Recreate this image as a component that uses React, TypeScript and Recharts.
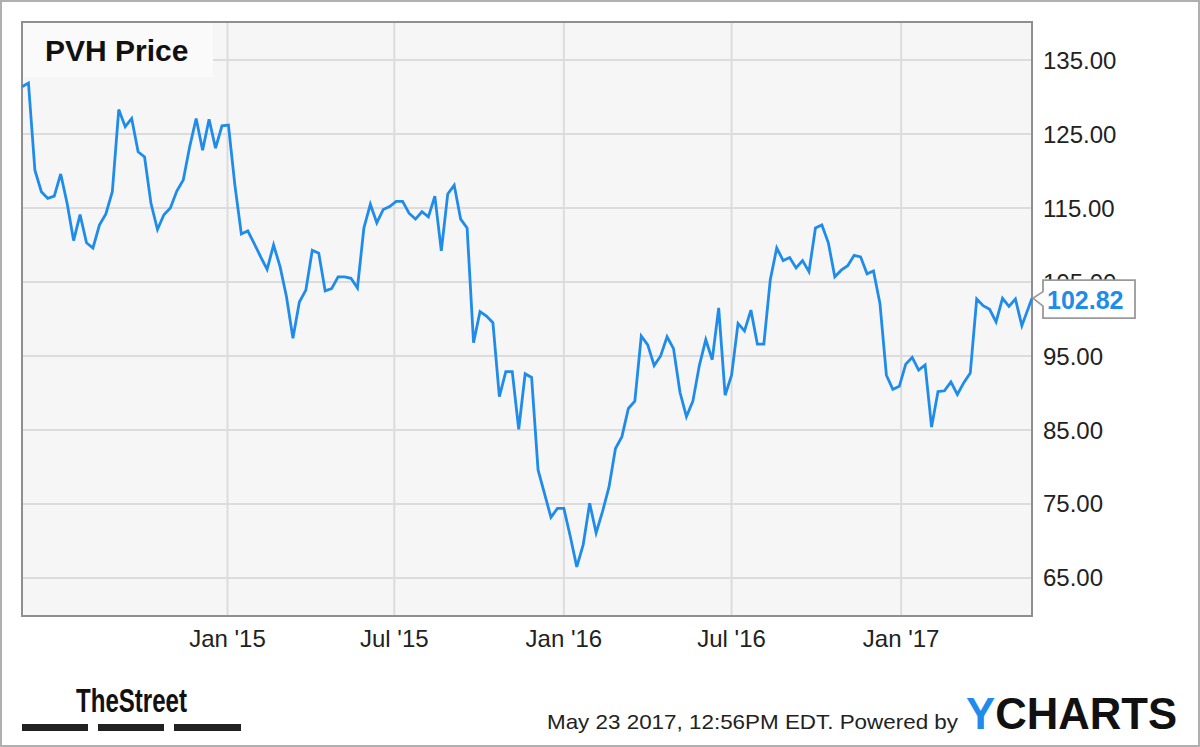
import React from 'react';
import { LineChart, Line, XAxis, YAxis, CartesianGrid, ReferenceArea } from 'recharts';

const START_DATE = '2014-05-23';
const END_DATE = '2017-05-23';

// Weekly closing prices of PVH
const prices = [
  131.4, 131.9, 120.1, 117.2, 116.3, 116.6, 119.6, 115.6, 110.6, 114.1,
  110.3, 109.6, 112.7, 114.2, 117.2, 128.3, 126.0, 127.1, 122.6, 121.9,
  115.6, 112.1, 114.1, 115.0, 117.3, 118.8, 123.3, 127.1, 122.8, 127.0,
  123.1, 126.1, 126.2, 118.1, 111.5, 111.9, 110.2, 108.4, 106.7, 110.0,
  107.1, 103.0, 97.4, 102.3, 103.9, 109.3, 108.9, 103.8, 104.1, 105.7,
  105.7, 105.5, 104.2, 112.3, 115.5, 113.0, 114.8, 115.2, 115.9, 115.9,
  114.3, 113.5, 114.5, 113.8, 116.6, 109.2, 116.9, 118.1, 113.5, 112.3,
  96.8, 101.0, 100.4, 99.5, 89.5, 92.9, 92.9, 85.1, 92.6, 92.1,
  79.6, 76.4, 73.2, 74.4, 74.4, 70.6, 66.5, 69.5, 75.1, 71.1,
  74.0, 77.3, 82.5, 84.1, 87.9, 88.9, 97.7, 96.5, 93.7, 95.0,
  97.6, 96.0, 90.1, 86.8, 88.9, 93.7, 97.2, 94.5, 101.5, 89.7,
  92.4, 99.4, 98.4, 101.2, 96.6, 96.6, 105.3, 109.6, 107.9, 108.3,
  106.9, 107.9, 106.4, 112.3, 112.7, 110.3, 105.7, 106.6, 107.2, 108.6,
  108.4, 106.1, 106.5, 102.1, 92.4, 90.5, 90.9, 93.9, 94.8, 93.1,
  93.8, 85.4, 90.2, 90.3, 91.5, 89.8, 91.4, 92.7, 102.7, 101.8,
  101.3, 99.6, 102.8, 101.7, 102.7, 99.1, 102.82,
];

const xTickDates = ['2015-01-01', '2015-07-01', '2016-01-01', '2016-07-01', '2017-01-01'];
const xTickLabels = ["Jan '15", "Jul '15", "Jan '16", "Jul '16", "Jan '17"];
const yTicks = [65, 75, 85, 95, 105, 115, 125, 135];
const yDomain = [59.86, 140.14];

const TITLE = 'PVH Price';
const FOOTER = 'May 23 2017, 12:56PM EDT. Powered by';
const BRAND_A = 'Y';
const BRAND_B = 'CHARTS';
const LOGO = 'TheStreet';

const BLUE = '#1f8ceb';
const FONT = '"Liberation Sans", Arial, Helvetica, sans-serif';

const DAY = 86400000;
const t0 = Date.parse(START_DATE);
const tEnd = Date.parse(END_DATE);
const data = prices.map((p, i) => ({
  t: i === prices.length - 1 ? tEnd : t0 + i * 7 * DAY,
  price: p,
}));
const xTicks = xTickDates.map((d) => Date.parse(d));
const xLabel = (v: number) => {
  const i = xTicks.indexOf(v);
  return i >= 0 ? xTickLabels[i] : '';
};

const PriceTag = (props: any) => {
  const { x, y, index, value } = props;
  if (index !== data.length - 1) return null;
  const bx = x + 11;
  const w = 92;
  const d = `M ${x + 1} ${y} L ${bx} ${y - 6.5} L ${bx} ${y - 18} L ${bx + w} ${y - 18} L ${bx + w} ${y + 20} L ${bx} ${y + 20} L ${bx} ${y + 8} Z`;
  return (
    <g>
      <path d={d} fill="#ffffff" stroke="#9a9a9a" strokeWidth={1.8} />
      <text
        x={bx + 4}
        y={y + 2}
        dominantBaseline="central"
        fontFamily={FONT}
        fontWeight="bold"
        fontSize={25}
        fill={BLUE}
      >
        {Number(value).toFixed(2)}
      </text>
    </g>
  );
};

export default function App() {
  return (
    <div style={{ position: 'absolute', left: 0, top: 0, width: 1200, height: 747, background: '#ffffff' }}>
      <LineChart
        width={1200}
        height={747}
        data={data}
        margin={{ top: 22, left: 22, right: 0, bottom: 0 }}
      >
        <CartesianGrid fill="#f6f6f6" stroke="#dcdcdc" strokeWidth={2} />
        <XAxis
          dataKey="t"
          type="number"
          scale="time"
          domain={[t0, tEnd]}
          ticks={xTicks}
          tickFormatter={xLabel}
          height={131}
          tickLine={false}
          axisLine={false}
          tickSize={0}
          tickMargin={14}
          tick={{ fontSize: 24, fill: '#222', fontFamily: FONT }}
        />
        <YAxis
          orientation="right"
          domain={yDomain}
          ticks={yTicks}
          allowDataOverflow
          width={168}
          tickLine={false}
          axisLine={false}
          tickSize={0}
          tickMargin={11}
          tickFormatter={(v: number) => v.toFixed(2)}
          tick={{ fontSize: 24, fill: '#222', fontFamily: FONT, textAnchor: 'start' }}
        />
        <ReferenceArea
          x1={t0}
          x2={tEnd}
          y1={yDomain[0]}
          y2={yDomain[1]}
          fill="none"
          stroke="#8f8f8f"
          strokeWidth={2}
          ifOverflow="visible"
        />
        <Line
          type="linear"
          dataKey="price"
          stroke={BLUE}
          strokeWidth={2.8}
          dot={false}
          isAnimationActive={false}
          label={<PriceTag />}
        />
      </LineChart>
      <svg
        width={1200}
        height={747}
        style={{ position: 'absolute', left: 0, top: 0, pointerEvents: 'none' }}
      >
        <rect x={1} y={1} width={1198} height={745} fill="none" stroke="#b0b0b0" strokeWidth={2} />
        <rect x={23} y={23} width={190} height={54} fill="#fafafa" />
        <text x={45} y={61} fontFamily={FONT} fontWeight="bold" fontSize={30} fill="#111">
          {TITLE}
        </text>
        <text
          x={76}
          y={712}
          fontFamily={FONT}
          fontWeight="bold"
          fontSize={34}
          fill="#111"
          textLength={111}
          lengthAdjust="spacingAndGlyphs"
        >
          {LOGO}
        </text>
        <rect x={22} y={724} width={66} height={7} fill="#222" />
        <rect x={98} y={724} width={66} height={7} fill="#222" />
        <rect x={174} y={724} width={67} height={7} fill="#222" />
        <text
          x={547}
          y={729}
          fontFamily={FONT}
          fontSize={21}
          fill="#222"
          textLength={411}
          lengthAdjust="spacingAndGlyphs"
        >
          {FOOTER}
        </text>
        <text x={966} y={729} fontFamily={FONT} fontWeight="bold" fontSize={44} textLength={211} lengthAdjust="spacingAndGlyphs">
          <tspan fill={BLUE}>{BRAND_A}</tspan>
          <tspan fill="#111">{BRAND_B}</tspan>
        </text>
      </svg>
    </div>
  );
}
